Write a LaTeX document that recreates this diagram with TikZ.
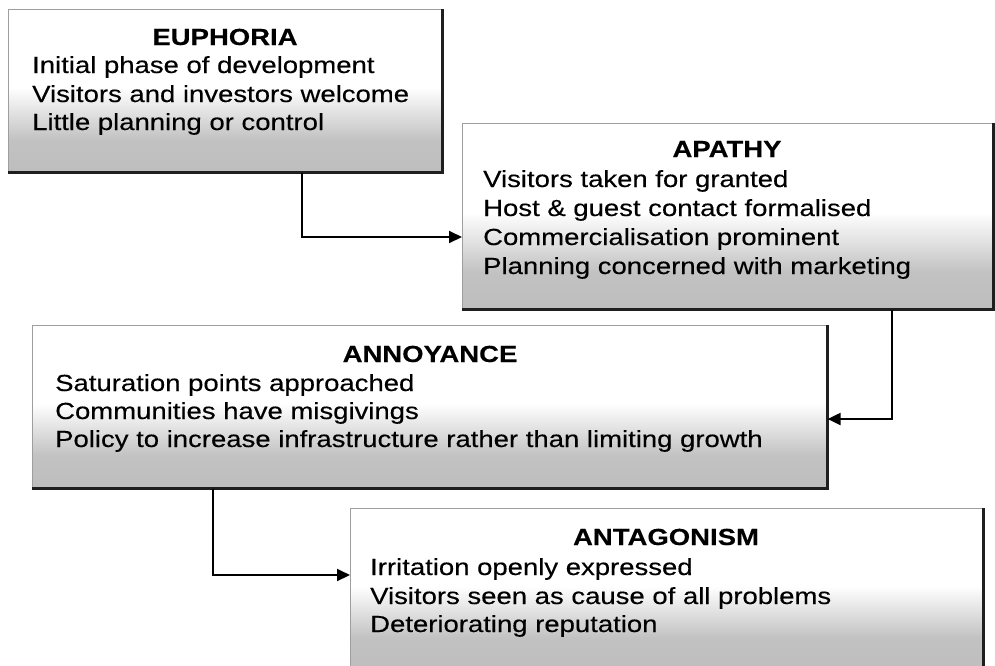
\documentclass[tikz,border=0pt]{standalone}
\usepackage{fontspec}
\setmainfont{Liberation Sans}[FakeStretch=1.18, FakeBold=0.3]
\usetikzlibrary{arrows.meta,calc}

\definecolor{edgegray}{gray}{0.62}
\definecolor{shadowgray}{gray}{0.12}

% white upper half, turning grey below the middle of the box
\pgfdeclareverticalshading{boxfade}{100bp}{%
  color(0bp)=(black!36); color(10bp)=(black!28);
  color(35bp)=(black!24); color(51bp)=(white); color(100bp)=(white)}

\tikzset{
  phasebox/.style={draw=edgegray, line width=0.6pt, shade, shading=boxfade,
    anchor=north west, inner sep=0pt},
  boxshadow/.style={draw=shadowgray, line width=3.5pt, line join=miter},
  flow/.style={draw=black, line width=2pt,
    -{Triangle[length=13pt,width=12pt]}},
  titletext/.style={anchor=base, inner sep=0pt,
    font=\fontsize{23.3}{28}\selectfont\bfseries},
  linetext/.style={anchor=base west, inner sep=0pt,
    font=\fontsize{23.3}{28}\selectfont},
}

\begin{document}
\begin{tikzpicture}[x=1pt, y=-1pt]
\useasboundingbox (0,0) rectangle (995,665);
\clip (0,0) rectangle (995,665);

% ---- boxes ----
\node[phasebox, minimum width=434pt, minimum height=163pt] (eu) at (8,9) {};
\node[phasebox, minimum width=531pt, minimum height=186pt] (ap) at (462,123) {};
\node[phasebox, minimum width=795pt, minimum height=163pt] (an) at (32,325) {};
\node[phasebox, minimum width=633pt, minimum height=162pt] (ag) at (350,508) {};

\foreach \b in {eu,ap,an,ag}
  \draw[boxshadow] (\b.north east) -- (\b.south east) -- (\b.south west);

% ---- texts ----
\node[titletext] (eu-t) at (225,45) {EUPHORIA};
\node[linetext] (eu-1) at (32,73)  {Initial phase of development};
\node[linetext] (eu-2) at (32,102) {Visitors and investors welcome};
\node[linetext] (eu-3) at (32,130) {Little planning or control};

\node[titletext] (ap-t) at (727,157) {APATHY};
\node[linetext] (ap-1) at (483,187) {Visitors taken for granted};
\node[linetext] (ap-2) at (483,216) {Host \& guest contact formalised};
\node[linetext] (ap-3) at (483,245) {Commercialisation prominent};
\node[linetext] (ap-4) at (483,274) {Planning concerned with marketing};

\node[titletext] (an-t) at (430,362) {ANNOYANCE};
\node[linetext] (an-1) at (55,391) {Saturation points approached};
\node[linetext] (an-2) at (55,419) {Communities have misgivings};
\node[linetext] (an-3) at (55,447) {Policy to increase infrastructure rather than limiting growth};

\node[titletext] (ag-t) at (666,545) {ANTAGONISM};
\node[linetext] (ag-1) at (370,575) {Irritation openly expressed};
\node[linetext] (ag-2) at (370,604) {Visitors seen as cause of all problems};
\node[linetext] (ag-3) at (370,632) {Deteriorating reputation};

% ---- connectors ----
\draw[flow] ($(eu.south west)+(294,0)$) |- ($(ap.north west)+(0,114)$);
\draw[flow] ($(ap.south west)+(430,0)$) |- ($(an.north east)+(0,94)$);
\draw[flow] ($(an.south west)+(181,0)$) |- ($(ag.north west)+(0,67)$);
\end{tikzpicture}
\end{document}
